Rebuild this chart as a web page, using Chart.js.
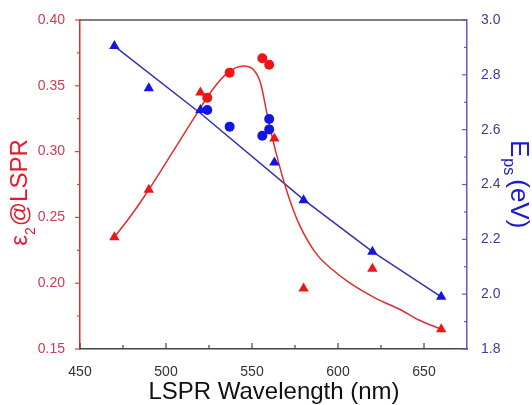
<!DOCTYPE html>
<html>
<head>
<meta charset="utf-8">
<script src="https://cdn.jsdelivr.net/npm/chart.js@4.4.0/dist/chart.umd.min.js"></script>
<style>
body { margin: 0; background: #fff; }
#wrap { width: 532px; height: 405px; }
</style>
</head>
<body>
<div id="wrap"><canvas id="chart" width="532" height="405"></canvas></div>
<script>
// values
const triWavelength = [470, 490, 520, 563, 580, 620, 660];
const eps2Triangles = [0.235, 0.271, 0.345, 0.310, 0.196, 0.211, 0.165];
const epsTriangles = [2.905, 2.751, 2.672, 2.48, 2.343, 2.155, 1.991];

const redCircWavelength = [524, 537, 556, 560];
const eps2Circles = [0.341, 0.360, 0.371, 0.366];

const blueCircWavelength = [524, 537, 556, 560, 560];
const epsCircles = [2.672, 2.611, 2.578, 2.601, 2.639];

// fitted curves (traced)
const eps2FitX = [470, 480, 490, 505, 517, 527, 536, 545, 551, 555, 559, 564, 570, 577, 587, 597, 607, 622, 636, 647, 660];
const eps2FitY = [0.235, 0.252, 0.271, 0.302, 0.327, 0.347, 0.360, 0.365, 0.362, 0.352, 0.327, 0.299, 0.271, 0.246, 0.223, 0.210, 0.200, 0.1885, 0.180, 0.172, 0.165];
const epsFitX = [470, 520, 580, 620, 660];
const epsFitY = [2.905, 2.66, 2.345, 2.155, 1.99];

const FONT = '"Liberation Sans", Arial, sans-serif';
const RED = 'rgb(240,20,20)';
const BLUE = 'rgb(20,20,230)';

function pts(xs, ys) {
    return xs.map((x, i) => ({ x: x, y: ys[i] }));
}

// frame top line, inward ticks and axis titles
const decor = {
    id: 'decor',
    afterDraw(chart) {
        const ctx = chart.ctx;
        const a = chart.chartArea;
        const sx = chart.scales.x, sy = chart.scales.y, sy2 = chart.scales.y2;
        ctx.save();

        ctx.strokeStyle = '#555';
        ctx.lineWidth = 1.5;
        ctx.beginPath();
        ctx.moveTo(a.left, a.top);
        ctx.lineTo(a.right, a.top);
        ctx.stroke();

        function tickVals(scale, step) {
            const major = scale.ticks.map(t => t.value);
            const minor = major.map(v => v + step / 2).filter(v => v < scale.max);
            return { major, minor };
        }

        // bottom ticks (inward)
        let t = tickVals(sx, 50);
        ctx.strokeStyle = '#444'; ctx.lineWidth = 1.2;
        t.major.concat(t.minor).forEach((v, i) => {
            const p = sx.getPixelForValue(v);
            const len = i < t.major.length ? 6 : 4;
            ctx.beginPath(); ctx.moveTo(p, a.bottom); ctx.lineTo(p, a.bottom - len); ctx.stroke();
        });

        // left ticks (outward)
        t = tickVals(sy, 0.05);
        ctx.strokeStyle = 'rgb(220,60,70)';
        t.major.concat(t.minor).forEach((v, i) => {
            const p = sy.getPixelForValue(v);
            const len = i < t.major.length ? 5 : 3;
            ctx.beginPath(); ctx.moveTo(a.left, p); ctx.lineTo(a.left - len, p); ctx.stroke();
        });

        // right ticks (inward)
        t = tickVals(sy2, 0.2);
        ctx.strokeStyle = 'rgb(90,90,200)';
        t.major.concat(t.minor).forEach((v, i) => {
            const p = sy2.getPixelForValue(v);
            const len = i < t.major.length ? 5 : 3;
            ctx.beginPath(); ctx.moveTo(a.right, p); ctx.lineTo(a.right - len, p); ctx.stroke();
        });

        ctx.textBaseline = 'alphabetic';
        ctx.textAlign = 'left';

        // x title
        ctx.fillStyle = '#111';
        ctx.font = '24px ' + FONT;
        ctx.textAlign = 'center';
        ctx.fillText('LSPR Wavelength (nm)', 274, 399);
        ctx.textAlign = 'left';

        // left title: ε2@LSPR
        const big = '24px ' + FONT;
        const small = '14px ' + FONT;
        ctx.font = big;
        const wEps = ctx.measureText('\u03B5').width;
        const wRest = ctx.measureText('@LSPR').width;
        ctx.font = small;
        const w2 = ctx.measureText('2').width;
        const total = wEps + w2 + wRest;
        ctx.save();
        ctx.fillStyle = 'rgb(230,25,45)';
        ctx.translate(27, 193 + total / 2);
        ctx.rotate(-Math.PI / 2);
        ctx.font = big; ctx.fillText('\u03B5', 0, 0);
        ctx.font = small; ctx.fillText('2', wEps, 8);
        ctx.font = big; ctx.fillText('@LSPR', wEps + w2 + 1, 0);
        ctx.restore();

        // right title: Eps (eV)
        ctx.save();
        ctx.fillStyle = 'rgb(25,25,210)';
        ctx.translate(511, 140);
        ctx.rotate(Math.PI / 2);
        ctx.font = '26px ' + FONT;
        const wE = ctx.measureText('E').width;
        ctx.fillText('E', 0, 0);
        ctx.font = '16px ' + FONT;
        const wPs = ctx.measureText('ps').width;
        ctx.fillText('ps', wE + 1, 7);
        ctx.font = '26px ' + FONT;
        ctx.fillText('(eV)', wE + wPs + 5, 0);
        ctx.restore();

        ctx.restore();
    }
};

new Chart(document.getElementById('chart'), {
    type: 'scatter',
    data: {
        datasets: [
            { data: pts(triWavelength, eps2Triangles), yAxisID: 'y', pointStyle: 'triangle', pointRadius: 6,
              backgroundColor: RED, borderColor: RED, borderWidth: 0 },
            { data: pts(redCircWavelength, eps2Circles), yAxisID: 'y', pointStyle: 'circle', pointRadius: 5,
              backgroundColor: RED, borderColor: RED, borderWidth: 0 },
            { data: pts(triWavelength, epsTriangles), yAxisID: 'y2', pointStyle: 'triangle', pointRadius: 6,
              backgroundColor: BLUE, borderColor: BLUE, borderWidth: 0 },
            { data: pts(blueCircWavelength, epsCircles), yAxisID: 'y2', pointStyle: 'circle', pointRadius: 5,
              backgroundColor: BLUE, borderColor: BLUE, borderWidth: 0 },
            { data: pts(eps2FitX, eps2FitY), yAxisID: 'y', showLine: true, pointRadius: 0,
              cubicInterpolationMode: 'monotone', borderColor: 'rgb(225,45,45)', borderWidth: 1.5 },
            { data: pts(epsFitX, epsFitY), yAxisID: 'y2', showLine: true, pointRadius: 0,
              tension: 0, borderColor: 'rgb(50,50,175)', borderWidth: 1.5 }
        ]
    },
    options: {
        responsive: false,
        animation: false,
        layout: { padding: { top: 20, left: 0, right: 0, bottom: 0 } },
        plugins: { legend: { display: false }, tooltip: { enabled: false } },
        scales: {
            x: {
                type: 'linear', min: 450, max: 675,
                afterFit: s => { s.height = 56; },
                grid: { display: false },
                border: { display: true, color: '#444', width: 1.5 },
                ticks: { stepSize: 50, includeBounds: false, padding: 7, color: '#333',
                         font: { family: FONT, size: 14 }, callback: v => String(v) }
            },
            y: {
                position: 'left', min: 0.15, max: 0.40,
                afterFit: s => { s.width = 80; },
                grid: { display: false },
                border: { display: true, color: 'rgb(240,40,40)', width: 1.5 },
                ticks: { stepSize: 0.05, padding: 7, color: 'rgb(205,60,80)',
                         font: { family: FONT, size: 14 }, callback: v => v.toFixed(2) }
            },
            y2: {
                position: 'right', min: 1.8, max: 3.0,
                afterFit: s => { s.width = 65; },
                grid: { display: false },
                border: { display: true, color: 'rgb(90,90,220)', width: 1.5 },
                ticks: { stepSize: 0.2, padding: 6, color: 'rgb(60,60,150)',
                         font: { family: FONT, size: 14 }, callback: v => v.toFixed(1) }
            }
        }
    },
    plugins: [decor]
});
</script>
</body>
</html>
